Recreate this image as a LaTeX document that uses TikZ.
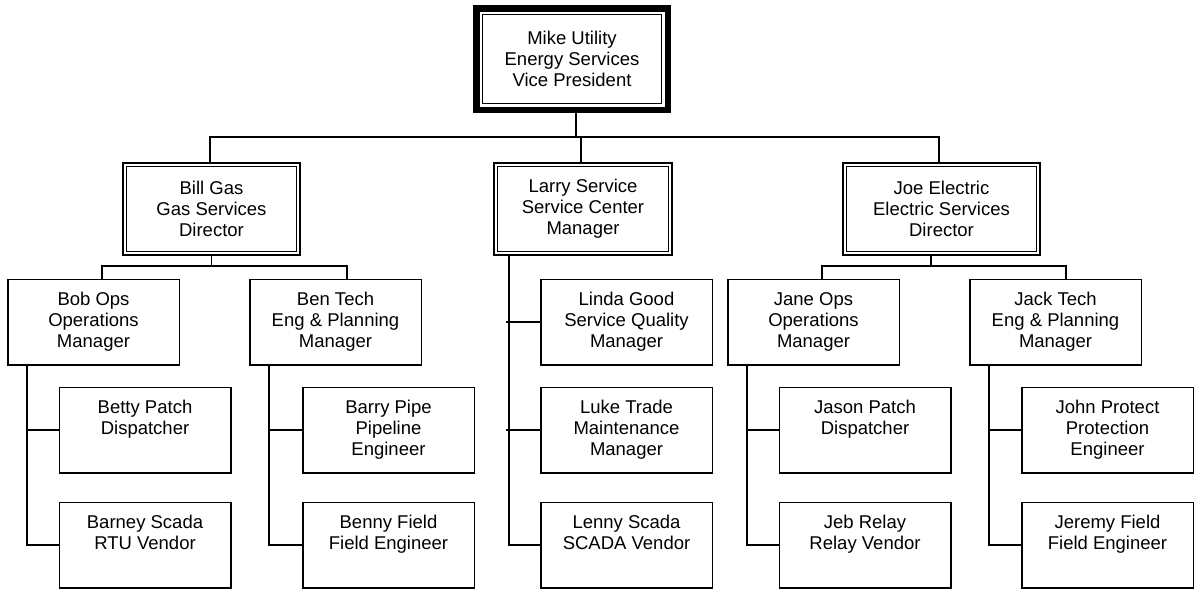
\documentclass[tikz,border=0pt]{standalone}
\usepackage{fontspec}
\setmainfont{Liberation Sans}
\usepackage{tikz}
\usetikzlibrary{calc}

\tikzset{
    staffbox/.style={draw, line width=1.5pt, minimum width=171.5pt, minimum height=85.5pt, align=center, inner sep=0pt},
    dirbox/.style={draw, double, double distance=2.2pt, line width=1.6pt, outer sep=2.7pt, minimum height=88.6pt, align=center, inner sep=0pt},
    vpbox/.style={draw, line width=6.5pt, minimum width=191.5pt, minimum height=101.5pt, align=center, inner sep=0pt,
        path picture={\draw[line width=1.4pt] ([shift={(6pt,-6pt)}]path picture bounding box.north west) rectangle ([shift={(-6pt,6pt)}]path picture bounding box.south east);}},
    conn/.style={line width=1.5pt}
}

\begin{document}
\begin{tikzpicture}[x=1pt, y=-1pt, font=\fontsize{18.5pt}{21pt}\selectfont]
            \useasboundingbox (0,0) rectangle (1196,590);
            % top
            \node (vp) [vpbox] at (572,59) {Mike Utility\\Energy Services\\Vice President};
            % directors
            \node (bill) [dirbox, minimum width=173.6pt] at (211.5,209) {Bill Gas\\Gas Services\\Director};
            \node (larry) [dirbox, minimum width=174.6pt] at (583,209) {Larry Service\\Service Center\\Manager};
            \node (joe) [dirbox, minimum width=193.6pt] at (941.5,209) {Joe Electric\\Electric Services\\Director};
            % managers
            \node (bob) [staffbox] at (93.5,322) {Bob Ops\\Operations\\Manager};
            \node (ben) [staffbox] at (335.5,322) {Ben Tech\\Eng \& Planning\\Manager};
            \node (jane) [staffbox] at (813.5,322) {Jane Ops\\Operations\\Manager};
            \node (jack) [staffbox] at (1055.5,322) {Jack Tech\\Eng \& Planning\\Manager};
            \node (linda) [staffbox] at (626.5,322) {Linda Good\\Service Quality\\Manager};
            % staff
            \node (betty) [staffbox] at (145,430) {Betty Patch\\Dispatcher\\\phantom{g}};
            \node (barney) [staffbox] at (145,545) {Barney Scada\\RTU Vendor\\\phantom{g}};
            \node (barry) [staffbox] at (388.5,430) {Barry Pipe\\Pipeline\\Engineer};
            \node (benny) [staffbox] at (388.5,545) {Benny Field\\Field Engineer\\\phantom{g}};
            \node (luke) [staffbox] at (626.5,430) {Luke Trade\\Maintenance\\Manager};
            \node (lenny) [staffbox] at (626.5,545) {Lenny Scada\\SCADA Vendor\\\phantom{g}};
            \node (jason) [staffbox] at (865,430) {Jason Patch\\Dispatcher\\\phantom{g}};
            \node (jeb) [staffbox] at (865,545) {Jeb Relay\\Relay Vendor\\\phantom{g}};
            \node (john) [staffbox] at (1107.5,430) {John Protect\\Protection\\Engineer};
            \node (jeremy) [staffbox] at (1107.5,545) {Jeremy Field\\Field Engineer\\\phantom{g}};
            % lines
            \draw[conn] ([xshift=4pt]vp.south) -- ++(0,24) coordinate (topbus);
            \draw[conn] ([xshift=-1.5pt]bill.north) |- (topbus) -| ([xshift=-2.5pt]joe.north);
            \draw[conn] ([xshift=-2pt]larry.north) -- ([xshift=-2pt]larry.north |- topbus);
            \draw[conn] (bill.south) -- ++(0,10) coordinate (gasbus);
            \draw[conn] ([xshift=8.5pt]bob.north) |- (gasbus) -| ([xshift=11.5pt]ben.north);
            \draw[conn] ([xshift=-10.5pt]joe.south) -- ++(0,10) coordinate (elecbus);
            \draw[conn] ([xshift=8.5pt]jane.north) |- (elecbus) -| ([xshift=10.5pt]jack.north);
            \draw[conn] ([xshift=20pt]bob.south west) |- (betty.west);
            \draw[conn] ([xshift=20pt]bob.south west) |- (barney.west);
            \draw[conn] ([xshift=20pt]ben.south west) |- (barry.west);
            \draw[conn] ([xshift=20pt]ben.south west) |- (benny.west);
            \draw[conn] ([xshift=20pt]jane.south west) |- (jason.west);
            \draw[conn] ([xshift=20pt]jane.south west) |- (jeb.west);
            \draw[conn] ([xshift=20pt]jack.south west) |- (john.west);
            \draw[conn] ([xshift=20pt]jack.south west) |- (jeremy.west);
            \draw[conn] ([xshift=16pt]larry.south west) |- (lenny.west);
            \draw[conn] (linda.west) -- ++(-34,0);
            \draw[conn] (luke.west) -- ++(-34,0);
        \end{tikzpicture}
\end{document}
